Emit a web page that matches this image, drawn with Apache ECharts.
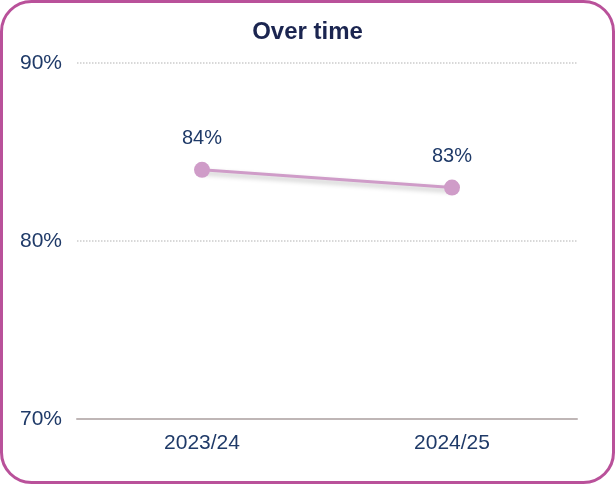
<!DOCTYPE html>
<html>
<head>
    <meta charset="utf-8">
    <title>Over time</title>
    <script src="https://cdn.jsdelivr.net/npm/echarts@6/dist/echarts.min.js"></script>
    <style>
        html, body { margin: 0; padding: 0; background: #fff; }
    </style>
</head>
<body>
    <div id="main" style="width: 615px;height:484px;"></div>
    <script type="text/javascript">
        var years = ['2023/24', '2024/25'];
        var values = [84, 83];
        var yTicks = [70, 80, 90];

        var FONT = '"Liberation Sans", Arial, sans-serif';
        var myChart = echarts.init(document.getElementById('main'));

        var option = {
            animation: false,
            textStyle: { fontFamily: FONT },
            title: {
                text: 'Over time',
                left: 'center',
                top: 15,
                textStyle: { color: '#1b2550', fontSize: 24, fontWeight: 'bold', fontFamily: FONT }
            },
            graphic: [{
                type: 'rect',
                shape: { x: 1.5, y: 1.5, width: 612, height: 481, r: 30 },
                style: { fill: 'none', stroke: '#b9519a', lineWidth: 3 },
                silent: true
            }],
            grid: { left: 77, right: 38, top: 63, bottom: 65 },
            xAxis: {
                type: 'category',
                data: years,
                axisLine: { lineStyle: { color: '#bfb6b6', width: 2 } },
                axisTick: { show: false },
                axisLabel: { color: '#1f3a68', fontSize: 21, margin: 14, fontFamily: FONT }
            },
            yAxis: {
                type: 'value',
                min: yTicks[0],
                max: yTicks[yTicks.length - 1],
                interval: 10,
                axisLine: { show: false },
                axisTick: { show: false },
                axisLabel: { color: '#1f3a68', fontSize: 21, margin: 15, formatter: '{value}%', fontFamily: FONT },
                splitLine: { lineStyle: { color: '#cccccc', type: 'dotted', width: 1.5 } }
            },
            series: [{
                type: 'line',
                data: values,
                symbol: 'circle',
                symbolSize: 16,
                itemStyle: { color: '#cf9cc8' },
                lineStyle: {
                    color: '#cf9cc8', width: 3,
                    shadowColor: 'rgba(0,0,0,0.25)', shadowBlur: 5, shadowOffsetY: 3
                },
                label: {
                    show: true,
                    position: 'top',
                    distance: 13,
                    color: '#1f3a68',
                    fontSize: 20,
                    fontFamily: FONT,
                    formatter: '{c}%'
                }
            }]
        };

        myChart.setOption(option);
    </script>
</body>
</html>
